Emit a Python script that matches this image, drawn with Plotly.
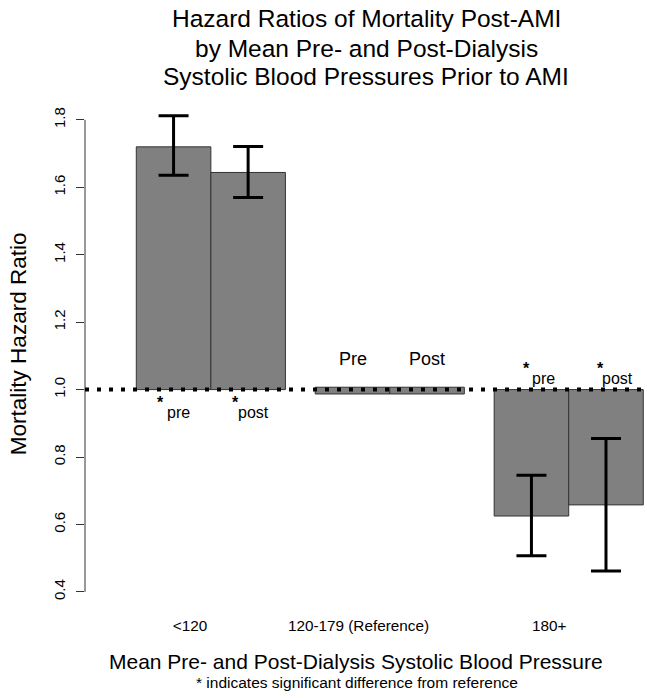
import plotly.graph_objects as go

# Systolic BP groups and hazard ratios (reference group = 1.0)
categories = ["<120", "120-179 (Reference)", "180+"]
hr_pre = [1.72, 1.0, 0.625]
ci_lo_pre = [1.636, None, 0.507]
ci_hi_pre = [1.812, None, 0.746]
hr_post = [1.644, 1.0, 0.658]
ci_lo_post = [1.570, None, 0.462]
ci_hi_post = [1.721, None, 0.855]
sig_pre = [True, False, True]
sig_post = [True, False, True]
y_ticks = [0.4, 0.6, 0.8, 1.0, 1.2, 1.4, 1.6, 1.8]
title_lines = ["Hazard Ratios of Mortality Post-AMI",
               "by Mean Pre- and Post-Dialysis",
               "Systolic Blood Pressures Prior to AMI"]

REF = 1.0
REF_BAND = (0.987, 1.007)     # thin marker for the reference group
BAR_W = 1.0
GAP = 0.4
label_pos = [1.12, 3.38, 5.94]

FONT = "Liberation Sans, Arial, sans-serif"
BAR_FILL = "#808080"
BAR_EDGE = "#333333"

def centers(slot):
    return [GAP + g * (2 * BAR_W + GAP) + BAR_W * (slot + 0.5) for g in range(len(categories))]

x_pre = centers(0)
x_post = centers(1)

fig = go.Figure()

# Bars for the non-reference groups grow from the reference line
for xs, hrs in ((x_pre, hr_pre), (x_post, hr_post)):
    bx, by = [], []
    for x, h in zip(xs, hrs):
        if h != REF:
            bx.append(x)
            by.append(h - REF)
    fig.add_trace(go.Bar(
        x=bx, y=by, base=REF, width=BAR_W,
        marker=dict(color=BAR_FILL, line=dict(color=BAR_EDGE, width=1)),
        showlegend=False, hoverinfo="skip",
    ))

# Reference group drawn as a thin band at HR = 1
ref_x = [x for xs, hrs in ((x_pre, hr_pre), (x_post, hr_post)) for x, h in zip(xs, hrs) if h == REF]
fig.add_trace(go.Bar(
    x=ref_x, y=[REF_BAND[1] - REF_BAND[0]] * len(ref_x), base=REF_BAND[0], width=BAR_W,
    marker=dict(color=BAR_FILL, line=dict(color=BAR_EDGE, width=1)),
    showlegend=False, hoverinfo="skip",
))

# 95% confidence intervals
ex, ey, eplus, eminus = [], [], [], []
for xs, hrs, los, his in ((x_pre, hr_pre, ci_lo_pre, ci_hi_pre), (x_post, hr_post, ci_lo_post, ci_hi_post)):
    for x, h, lo, hi in zip(xs, hrs, los, his):
        if lo is None:
            continue
        ex.append(x)
        ey.append(h)
        eplus.append(hi - h)
        eminus.append(h - lo)
fig.add_trace(go.Scatter(
    x=ex, y=ey, mode="markers", marker=dict(size=1, opacity=0),
    error_y=dict(type="data", symmetric=False, array=eplus, arrayminus=eminus,
                 color="black", thickness=3, width=15),
    showlegend=False, hoverinfo="skip",
))

x_min, x_max = -0.288, 7.25
y_min, y_max = 0.37, 1.85

shapes = [
    # y axis line spanning the tick range only
    dict(type="line", xref="paper", x0=0, x1=0, yref="y", y0=y_ticks[0], y1=y_ticks[-1],
         line=dict(color=BAR_EDGE, width=1)),
    # dotted reference line
    dict(type="line", xref="paper", x0=0, x1=1, yref="y", y0=REF, y1=REF,
         line=dict(color="black", width=4, dash="4px,8px"), layer="above"),
]


def note(**kw):
    kw.setdefault("showarrow", False)
    kw.setdefault("xanchor", "center")
    kw.setdefault("yanchor", "middle")
    return dict(**kw)


annotations = []
# significance markers
for xs, hrs, sig, word in ((x_pre, hr_pre, sig_pre, "pre"), (x_post, hr_post, sig_post, "post")):
    for x, h, s in zip(xs, hrs, sig):
        if h == REF:
            annotations.append(note(x=x, y=1.091, xref="x", yref="y", text=word.capitalize(),
                                    font=dict(size=18, color="black", family=FONT)))
            continue
        if not s:
            continue
        if h > REF:
            ys, yw, sx_star, sx_word = 0.962, 0.931, -13, 5
        else:
            ys, yw, sx_star, sx_word = 1.064, 1.032, -5, 12
        annotations.append(note(x=x, y=ys, xref="x", yref="y", text="<b>*</b>", xshift=sx_star,
                                font=dict(size=16, color="black", family=FONT)))
        annotations.append(note(x=x, y=yw, xref="x", yref="y", text=word, xshift=sx_word,
                                font=dict(size=16, color="black", family=FONT)))

# title lines
for line, yp in zip(title_lines, (1.169, 1.109, 1.053)):
    annotations.append(note(x=0.5, y=yp, xref="paper", yref="paper", text=line,
                            font=dict(size=24.5, color="black", family=FONT)))

# axis titles
annotations.append(note(x=-0.119, y=0.517, xref="paper", yref="paper", text="Mortality Hazard Ratio",
                        textangle=-90, font=dict(size=22.5, color="black", family=FONT)))
annotations.append(note(x=0.482, y=-0.120, xref="paper", yref="paper",
                        text="Mean Pre- and Post-Dialysis Systolic Blood Pressure",
                        font=dict(size=21, color="black", family=FONT)))
annotations.append(note(x=0.484, y=-0.162, xref="paper", yref="paper",
                        text="* indicates significant difference from reference",
                        font=dict(size=15.5, color="black", family=FONT)))

fig.update_layout(
    width=647, height=698,
    margin=dict(l=85, r=0, t=103, b=96),
    paper_bgcolor="white", plot_bgcolor="white",
    barmode="overlay",
    xaxis=dict(range=[x_min, x_max], showgrid=False, zeroline=False, showline=False,
               tickvals=label_pos, ticktext=categories, ticks="",
               tickfont=dict(size=15.3, color="black", family=FONT), ticklabelstandoff=13),
    yaxis=dict(range=[y_min, y_max], showgrid=False, zeroline=False, showline=False,
               tickvals=y_ticks, ticktext=[f"{v:.1f}" for v in y_ticks],
               ticks="outside", ticklen=8, tickcolor=BAR_EDGE, tickwidth=1, tickangle=-90,
               ticklabelstandoff=5,
               tickfont=dict(size=15, color="black", family=FONT)),
    shapes=shapes,
    annotations=annotations,
)

fig.write_html("out.html")
